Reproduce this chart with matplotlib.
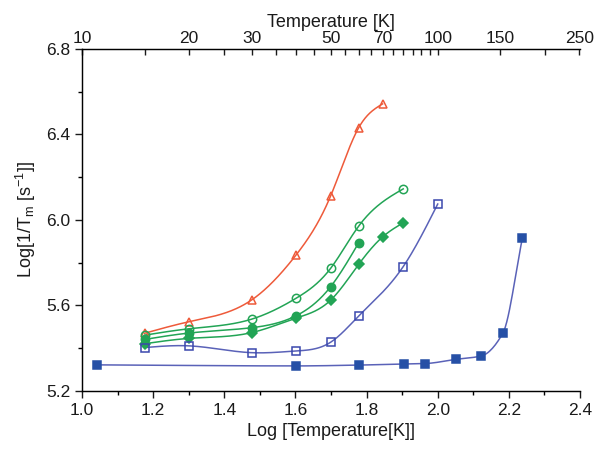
import numpy as np
import matplotlib
matplotlib.use("Agg")
import matplotlib.pyplot as plt
from matplotlib.ticker import MultipleLocator, FixedLocator

plt.rcParams['font.family'] = ['Liberation Sans', 'DejaVu Sans']

# ---- data (log10 T, log10 1/Tm) ----
tri_x = [1.176, 1.301, 1.477, 1.602, 1.699, 1.778, 1.845]
tri_y = [5.469, 5.523, 5.625, 5.836, 6.112, 6.432, 6.543]

ocirc_x = [1.176, 1.301, 1.477, 1.602, 1.699, 1.778, 1.903]
ocirc_y = [5.460, 5.490, 5.535, 5.633, 5.773, 5.971, 6.145]

fcirc_x = [1.176, 1.301, 1.477, 1.602, 1.699, 1.778]
fcirc_y = [5.440, 5.470, 5.495, 5.551, 5.687, 5.893]

diam_x = [1.176, 1.301, 1.477, 1.602, 1.699, 1.778, 1.845, 1.903]
diam_y = [5.420, 5.445, 5.472, 5.540, 5.624, 5.792, 5.920, 5.986]

osq_x = [1.176, 1.301, 1.477, 1.602, 1.699, 1.778, 1.903, 2.000]
osq_y = [5.402, 5.410, 5.378, 5.386, 5.427, 5.550, 5.781, 6.074]

fsq_x = [1.041, 1.602, 1.778, 1.904, 1.963, 2.052, 2.123, 2.183, 2.238]
fsq_y = [5.321, 5.316, 5.320, 5.325, 5.327, 5.347, 5.363, 5.469, 5.914]

top_ticks = [10, 15, 20, 25, 30, 35, 40, 45, 50, 55, 60, 65, 70, 75, 80, 85, 90, 95, 100, 150, 200, 250]
top_labels = [10, 20, 30, 50, 70, 100, 150, 250]


def natural_spline(x, y, n=300):
    x = np.asarray(x, float); y = np.asarray(y, float)
    N = len(x); h = np.diff(x)
    A = np.zeros((N, N)); b = np.zeros(N)
    A[0, 0] = 1; A[-1, -1] = 1
    for i in range(1, N - 1):
        A[i, i - 1] = h[i - 1]; A[i, i] = 2 * (h[i - 1] + h[i]); A[i, i + 1] = h[i]
        b[i] = 6 * ((y[i + 1] - y[i]) / h[i] - (y[i] - y[i - 1]) / h[i - 1])
    M = np.linalg.solve(A, b)
    xs = np.linspace(x[0], x[-1], n)
    i = np.clip(np.searchsorted(x, xs) - 1, 0, N - 2)
    a = x[i + 1] - xs; c = xs - x[i]; hi = h[i]
    ys = (M[i] * a**3 / (6 * hi) + M[i + 1] * c**3 / (6 * hi)
          + (y[i] / hi - M[i] * hi / 6) * a + (y[i + 1] / hi - M[i + 1] * hi / 6) * c)
    return xs, ys


def pchip(x, y, n=300):
    x = np.asarray(x, float); y = np.asarray(y, float)
    h = np.diff(x); d = np.diff(y) / h
    m = np.zeros_like(y)
    for k in range(1, len(x) - 1):
        if d[k - 1] * d[k] <= 0:
            m[k] = 0.0
        else:
            w1 = 2 * h[k] + h[k - 1]; w2 = h[k] + 2 * h[k - 1]
            m[k] = (w1 + w2) / (w1 / d[k - 1] + w2 / d[k])
    m[0] = d[0]; m[-1] = d[-1]
    xs = np.linspace(x[0], x[-1], n)
    idx = np.clip(np.searchsorted(x, xs) - 1, 0, len(x) - 2)
    t = (xs - x[idx]) / h[idx]
    h00 = 2 * t**3 - 3 * t**2 + 1; h10 = t**3 - 2 * t**2 + t
    h01 = -2 * t**3 + 3 * t**2; h11 = t**3 - t**2
    ys = h00 * y[idx] + h10 * h[idx] * m[idx] + h01 * y[idx + 1] + h11 * h[idx] * m[idx + 1]
    return xs, ys


fig = plt.figure(figsize=(6.01, 4.53), dpi=100)
ax = fig.add_axes([82 / 601, 1 - 390.7 / 453, (580 - 82) / 601, (390.7 - 49) / 453])

red = '#ee5a3a'
green = '#22a455'
blue_line = '#5a62b8'
blue_open = '#3a48ad'
blue_fill = '#2650a6'

series = [
    (tri_x, tri_y, red, red, '^', 'none', natural_spline),
    (ocirc_x, ocirc_y, green, green, 'o', 'none', natural_spline),
    (fcirc_x, fcirc_y, green, green, 'o', green, natural_spline),
    (diam_x, diam_y, green, green, 'D', green, natural_spline),
    (osq_x, osq_y, blue_line, blue_open, 's', 'none', natural_spline),
    (fsq_x, fsq_y, blue_line, blue_fill, 's', blue_fill, pchip),
]
for x, y, lc, mc, mk, fc, fn in series:
    xs, ys = fn(x, y)
    ax.plot(xs, ys, color=lc, lw=1.1, zorder=2)
    ms = 6 if mk != 'D' else 5
    ax.plot(x, y, ls='none', marker=mk, ms=ms, mec=mc, mfc=fc, mew=1.1, zorder=3)

ax.set_xlim(1.0, 2.4)
ax.set_ylim(5.2, 6.8)
ax.xaxis.set_major_locator(MultipleLocator(0.2))
ax.xaxis.set_minor_locator(MultipleLocator(0.1))
ax.yaxis.set_major_locator(MultipleLocator(0.4))
ax.yaxis.set_minor_locator(MultipleLocator(0.2))
ax.tick_params(axis='both', which='major', direction='out', length=5, width=1, labelsize=12.5, colors='#1a1a1a')
ax.tick_params(axis='both', which='minor', direction='out', length=3, width=1)
ax.tick_params(top=False, right=False)
ax.spines['right'].set_visible(False)
for s in ['left', 'bottom', 'top']:
    ax.spines[s].set_linewidth(1.0)
    ax.spines[s].set_color('#1a1a1a')
ax.set_xlabel('Log [Temperature[K]]', fontsize=13, color='#1a1a1a', labelpad=4)
ax.set_ylabel('Log[1/T$_\\mathregular{m}$ [s$^\\mathregular{-1}$]]', fontsize=13, color='#1a1a1a', labelpad=6)

ax2 = ax.twiny()
ax2.set_xlim(ax.get_xlim())
ax2.spines['right'].set_visible(False)
ax2.xaxis.set_major_locator(FixedLocator(np.log10(top_ticks)))
ax2.set_xticklabels([str(t) if t in top_labels else '' for t in top_ticks])
ax2.tick_params(axis='x', direction='in', length=4, width=1, labelsize=12.5, colors='#1a1a1a', pad=2)
ax2.set_xlabel('Temperature [K]', fontsize=13, color='#1a1a1a', labelpad=3)

fig.savefig('out.png', dpi=100)
